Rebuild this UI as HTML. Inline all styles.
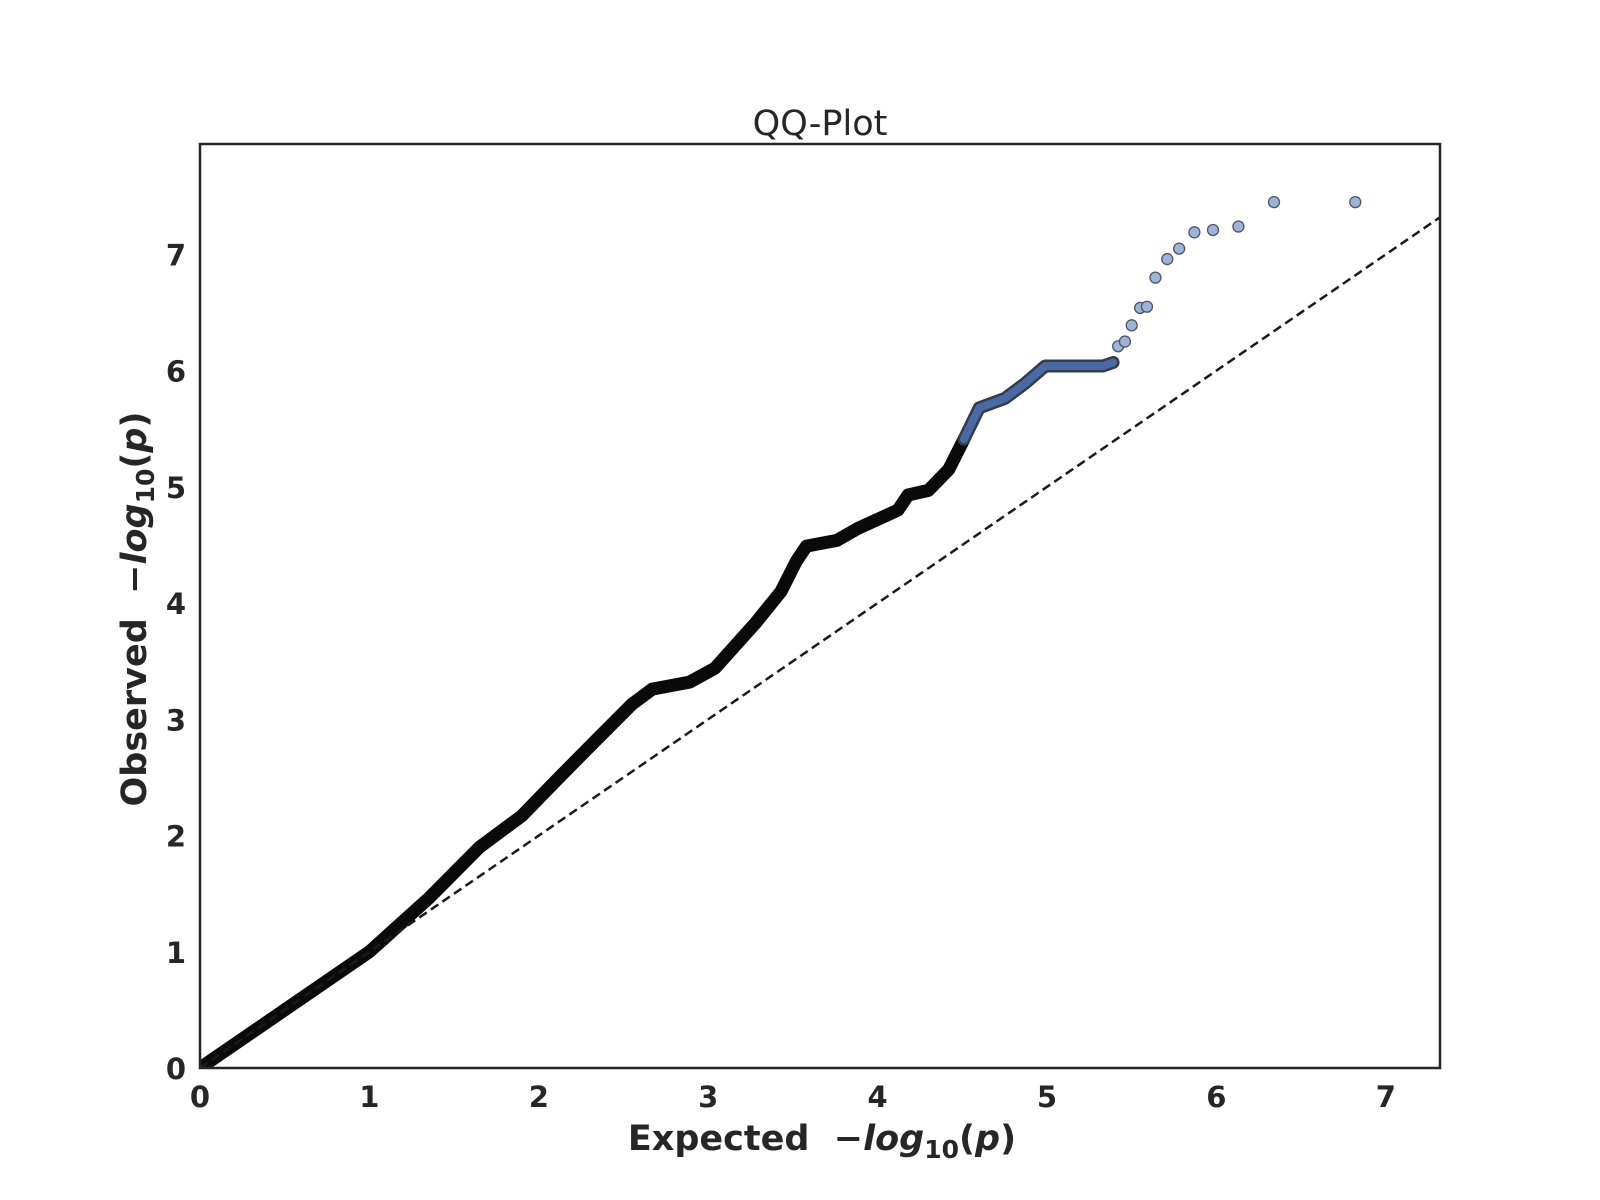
<!DOCTYPE html>
<html><head><meta charset="utf-8"><style>
html,body{margin:0;padding:0;background:#fff;}
svg{display:block;font-family:"DejaVu Sans","Liberation Sans",sans-serif;}
</style></head><body>
<svg id="chart" width="1600" height="1200" viewBox="0 0 1600 1200">
<rect x="0" y="0" width="1600" height="1200" fill="#fff"/>
<g id="plot"></g>
<text x="820" y="135" text-anchor="middle" font-size="35" fill="#262626">QQ-Plot</text>
<text x="822" y="1150" text-anchor="middle" font-size="35" font-weight="bold" fill="#262626">Expected&#160;&#160;−<tspan font-style="italic">log</tspan><tspan font-size="25" dy="8">10</tspan><tspan dy="-8">(</tspan><tspan font-style="italic">p</tspan>)</text>
<text transform="translate(146,609) rotate(-90)" text-anchor="middle" font-size="35" font-weight="bold" fill="#262626">Observed&#160;&#160;−<tspan font-style="italic">log</tspan><tspan font-size="25" dy="8">10</tspan><tspan dy="-8">(</tspan><tspan font-style="italic">p</tspan>)</text>
</svg>
<script>
const denseExpected = [0,1.0,1.35,1.65,1.9,2.1,2.31,2.55,2.67,2.89,3.04,3.28,3.43,3.52,3.58,3.76,3.88,4.12,4.18,4.3,4.42,4.51];
const denseObserved = [0,1.0,1.46,1.9,2.17,2.47,2.78,3.13,3.26,3.32,3.44,3.83,4.1,4.36,4.49,4.54,4.64,4.8,4.93,4.97,5.15,5.41];
const midExpected = [4.51,4.6,4.75,4.87,4.99,5.33,5.39];
const midObserved = [5.41,5.68,5.76,5.89,6.04,6.04,6.07];
const tailExpected = [5.42,5.46,5.5,5.55,5.59,5.64,5.71,5.78,5.87,5.98,6.13,6.34,6.82];
const tailObserved = [6.21,6.25,6.39,6.54,6.55,6.8,6.96,7.05,7.19,7.21,7.24,7.45,7.45];
const xTicks = [0,1,2,3,4,5,6,7];
const yTicks = [0,1,2,3,4,5,6,7];
const xMax = 7.32, yMax = 7.95;

const L=200,R=1440,T=144,B=1068;
const sx=v=>L+v/xMax*(R-L);
const sy=v=>B-v/yMax*(B-T);
const NS='http://www.w3.org/2000/svg';
const g=document.getElementById('plot');
function mk(tag,attrs){const e=document.createElementNS(NS,tag);for(const k in attrs)e.setAttribute(k,attrs[k]);return e;}

const clip=mk('clipPath',{id:'clip'});clip.appendChild(mk('rect',{x:L,y:T,width:R-L,height:B-T}));
const defs=mk('defs',{});defs.appendChild(clip);g.appendChild(defs);
const inner=mk('g',{'clip-path':'url(#clip)'});g.appendChild(inner);

function pts(xs,ys){return xs.map((x,i)=>sx(x)+','+sy(ys[i])).join(' ');}
let d=mk('polyline',{points:pts(denseExpected,denseObserved),fill:'none',stroke:'#0a0a0a','stroke-width':13,'stroke-linejoin':'round','stroke-linecap':'round'});


inner.appendChild(d);
let m1=mk('polyline',{points:pts(midExpected,midObserved),fill:'none',stroke:'#333d4d','stroke-width':13,'stroke-linejoin':'round','stroke-linecap':'round'});


inner.appendChild(m1);
let m2=mk('polyline',{points:pts(midExpected,midObserved),fill:'none',stroke:'#4a6aa3','stroke-width':8,'stroke-linejoin':'round','stroke-linecap':'round'});


inner.appendChild(m2);

let ref=mk('line',{x1:sx(0),y1:sy(0),x2:sx(xMax),y2:sy(xMax),stroke:'#1a1a1a','stroke-width':2.5,'stroke-dasharray':'9,5'});


inner.appendChild(ref);

tailExpected.forEach((x,i)=>{
  const c=mk('circle',{cx:sx(x),cy:sy(tailObserved[i]),r:5.5,fill:'#9fb3d6',stroke:'#4d5566','stroke-width':1.3});
  
  
  inner.appendChild(c);
});

let frame=mk('rect',{x:L,y:T,width:R-L,height:B-T,fill:'none',stroke:'#262626','stroke-width':2.5});


g.appendChild(frame);

xTicks.forEach(v=>{
  const t=mk('text',{x:sx(v),y:B+39,'text-anchor':'middle','font-size':29,'font-weight':'bold',fill:'#262626'});
  t.textContent=v;
  
  
  g.appendChild(t);
});
yTicks.forEach(v=>{
  const t=mk('text',{x:L-14,y:sy(v)+11,'text-anchor':'end','font-size':29,'font-weight':'bold',fill:'#262626'});
  t.textContent=v;
  
  
  g.appendChild(t);
});
</script>
</body></html>
